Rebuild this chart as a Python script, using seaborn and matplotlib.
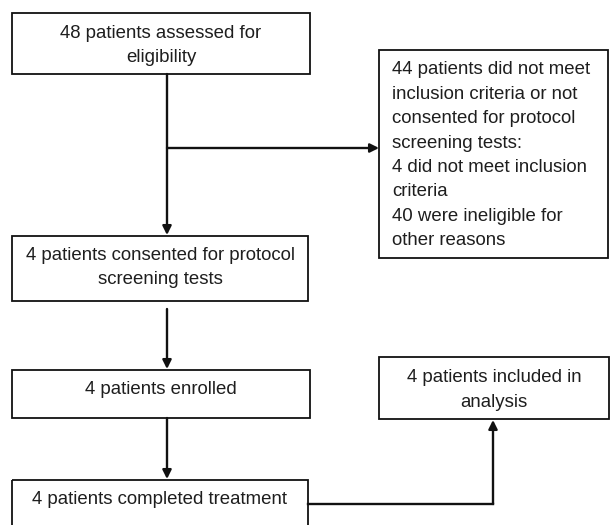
import matplotlib
matplotlib.use("Agg")
import matplotlib.pyplot as plt
from matplotlib.patches import Rectangle
import seaborn as sns

# ---- content (text of the flow diagram) ----
main_steps = [
    ["48 patients assessed for", "eligibility"],
    ["4 patients consented for protocol", "screening tests"],
    ["4 patients enrolled"],
    ["4 patients completed treatment"],
]
exclusion_lines = [
    "44 patients did not meet",
    "inclusion criteria or not",
    "consented for protocol",
    "screening tests:",
    "4 did not meet inclusion",
    "criteria",
    "40 were ineligible for",
    "other reasons",
]
analysis_lines = ["4 patients included in", "analysis"]

# ---- layout (pixel coordinates, y downward) ----
W, H = 610, 525
main_boxes = [  # x0, y0, x1, y1, first text line y
    (12, 13, 310, 74, 33),
    (12, 236, 308, 301, 255),
    (12, 370, 310, 418, 390),
    (12, 480, 308, 560, 499),
]
excl_box = (379, 50, 608, 258)
excl_text_x, excl_text_y0, excl_step = 392, 70, 24.4
anal_box = (379, 357, 609, 419, 378)
line_step = 24.5
spine_x = 167

sns.set_theme(style="white")
plt.rcParams["font.family"] = ["Liberation Sans", "DejaVu Sans"]

fig = plt.figure(figsize=(W / 100, H / 100), dpi=100)
ax = fig.add_axes([0, 0, 1, 1])
ax.set_xlim(0, W)
ax.set_ylim(H, 0)
ax.axis("off")

TXT = "#1e1e1e"
FS = 13.4
BOX_LW = 1.3
ARR_LW = 1.7


def box(x0, y0, x1, y1):
    ax.add_patch(Rectangle((x0, y0), x1 - x0, y1 - y0, fill=False,
                           edgecolor="#111111", lw=BOX_LW, clip_on=True))


def arrow(p0, p1):
    ax.annotate("", xy=p1, xytext=p0,
                arrowprops=dict(arrowstyle="-|>", lw=ARR_LW, color="#111111",
                                mutation_scale=13, shrinkA=0, shrinkB=0))


# main column
for lines, (x0, y0, x1, y1, ty) in zip(main_steps, main_boxes):
    box(x0, y0, x1, y1)
    cx = (x0 + x1) / 2
    for i, t in enumerate(lines):
        ax.text(cx, ty + i * line_step, t, ha="center", va="center",
                fontsize=FS, color=TXT)

# exclusion box
box(*excl_box)
for i, t in enumerate(exclusion_lines):
    ax.text(excl_text_x, excl_text_y0 + i * excl_step, t, ha="left",
            va="center", fontsize=FS, color=TXT)

# analysis box
ax0, ay0, ax1, ay1, aty = anal_box
box(ax0, ay0, ax1, ay1)
for i, t in enumerate(analysis_lines):
    ax.text((ax0 + ax1) / 2, aty + i * line_step, t, ha="center",
            va="center", fontsize=FS, color=TXT)

# arrows down the main column
arrow((spine_x, main_boxes[0][3]), (spine_x, main_boxes[1][1] - 1))
arrow((spine_x, main_boxes[1][3] + 8), (spine_x, main_boxes[2][1] - 1))
arrow((spine_x, main_boxes[2][3]), (spine_x, main_boxes[3][1] - 1))

# branch to exclusion box
branch_y = 148
arrow((spine_x, branch_y), (excl_box[0], branch_y))

# connector from completed treatment to analysis
conn_y = 504
conn_x = 493
ax.plot([main_boxes[3][2], conn_x], [conn_y, conn_y], color="#111111",
        lw=ARR_LW, solid_capstyle="projecting")
arrow((conn_x, conn_y), (conn_x, ay1 + 1))

fig.savefig("out.png", dpi=100, facecolor="white")
